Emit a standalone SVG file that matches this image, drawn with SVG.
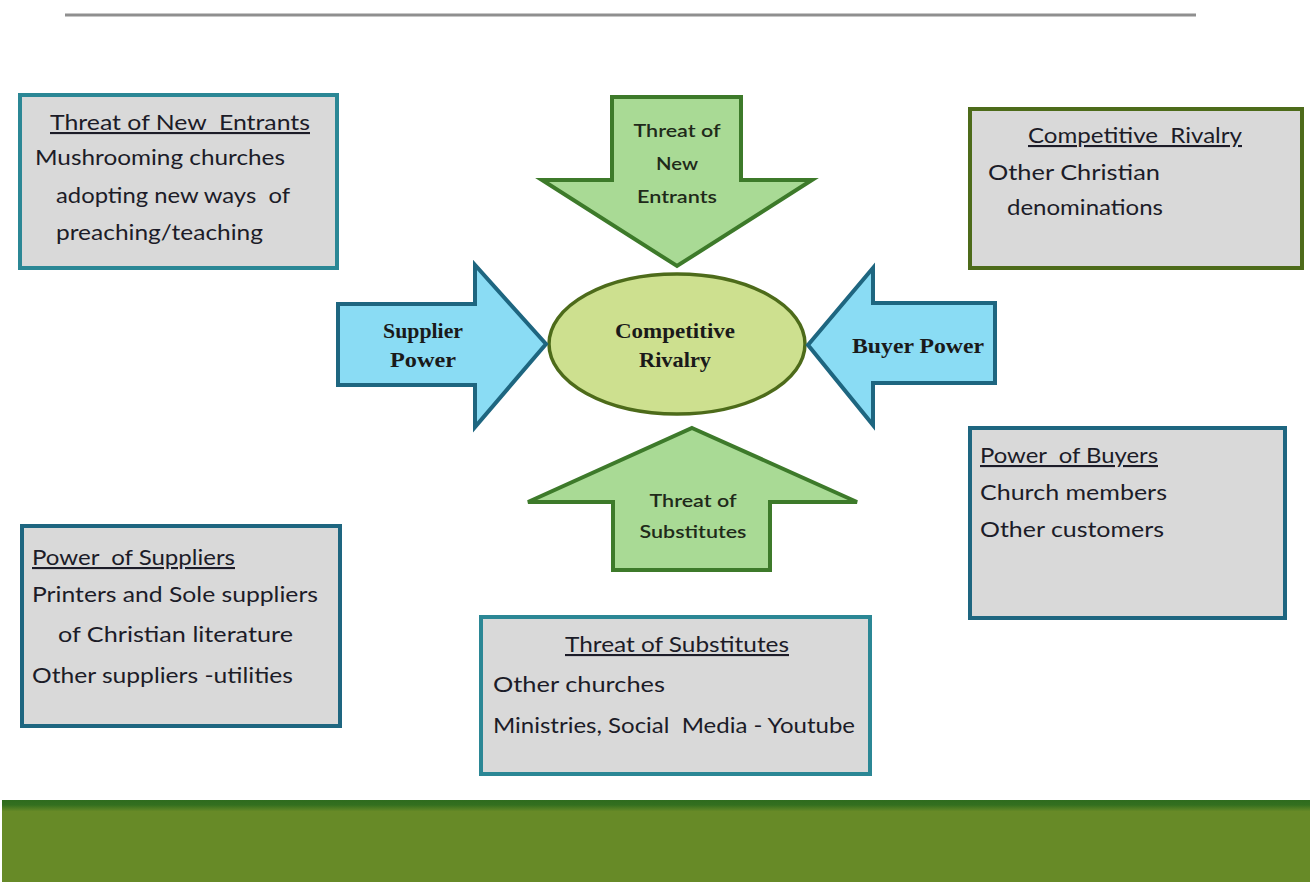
<svg xmlns="http://www.w3.org/2000/svg" width="1312" height="882" viewBox="0 0 1312 882">
  <defs>
    <linearGradient id="footerGrad" x1="0" y1="0" x2="0" y2="1">
      <stop offset="0" stop-color="#2e6b1e"/>
      <stop offset="0.06" stop-color="#336f1f"/>
      <stop offset="0.14" stop-color="#678a27"/>
      <stop offset="1" stop-color="#678a27"/>
    </linearGradient>
  </defs>
  <style>
    .box { fill: #d9d9d9; stroke-width: 4; }
    .teal { stroke: #2b8795; }
    .navy { stroke: #1e6680; }
    .olive { stroke: #4d6b1a; }
    .boxtxt { font-family: Lato, "Open Sans", sans-serif; font-size: 21px; fill: #1c1c28; }
    .title { text-decoration: underline; }
    .blueArrow { fill: #8adcf4; stroke: #1e6680; stroke-width: 4; stroke-linejoin: miter; }
    .greenArrow { fill: #a9da95; stroke: #3d7a2a; stroke-width: 4; stroke-linejoin: miter; }
    .hub { fill: #cde08f; stroke: #4d6b1a; stroke-width: 3.5; }
    .serif { font-family: "Liberation Serif", "Times New Roman", serif; font-weight: bold; font-size: 21px; fill: #1a1a1a; text-anchor: middle; }
    .arrowtxt { font-family: Lato, "Open Sans", sans-serif; font-weight: 600; font-size: 18px; fill: #1f2a1a; text-anchor: middle; }
  </style>

  <rect width="1312" height="882" fill="#ffffff"/>

  <!-- header rule -->
  <line x1="65" y1="15" x2="1196" y2="15" stroke="#8f8f8f" stroke-width="3"/>

  <!-- footer band -->
  <rect x="2" y="800" width="1308" height="82" fill="url(#footerGrad)"/>

  <!-- centre hub -->
  <g id="hub">
    <ellipse class="hub" cx="677" cy="344" rx="128" ry="70"/>
    <text class="serif" x="675" y="338" textLength="120" lengthAdjust="spacingAndGlyphs">Competitive</text>
    <text class="serif" x="675" y="367" textLength="72" lengthAdjust="spacingAndGlyphs">Rivalry</text>
  </g>

  <!-- force arrows pointing at the hub -->
  <g id="arrow-new-entrants">
    <polygon class="greenArrow" points="612,97 741,97 741,180 812,180 677,266 542,180 612,180"/>
    <text class="arrowtxt" x="677" y="137" textLength="87" lengthAdjust="spacingAndGlyphs">Threat of</text>
    <text class="arrowtxt" x="677" y="170" textLength="42" lengthAdjust="spacingAndGlyphs">New</text>
    <text class="arrowtxt" x="677" y="203" textLength="80" lengthAdjust="spacingAndGlyphs">Entrants</text>
  </g>

  <g id="arrow-substitutes">
    <polygon class="greenArrow" points="692,428 857,502 770,502 770,570 613,570 613,502 528,502"/>
    <text class="arrowtxt" x="693" y="507" textLength="87" lengthAdjust="spacingAndGlyphs">Threat of</text>
    <text class="arrowtxt" x="693" y="538" textLength="107" lengthAdjust="spacingAndGlyphs">Substitutes</text>
  </g>

  <g id="arrow-supplier">
    <polygon class="blueArrow" points="338,304 475,304 475,265 546,344 475,427 475,385 338,385"/>
    <text class="serif" x="423" y="338" textLength="80" lengthAdjust="spacingAndGlyphs">Supplier</text>
    <text class="serif" x="423" y="367" textLength="66" lengthAdjust="spacingAndGlyphs">Power</text>
  </g>

  <g id="arrow-buyer">
    <polygon class="blueArrow" points="995,303 873,303 873,268 808,345 873,425 873,383 995,383"/>
    <text class="serif" x="918" y="353" textLength="132" lengthAdjust="spacingAndGlyphs">Buyer Power</text>
  </g>

  <!-- detail boxes -->
  <g id="box-new-entrants">
    <rect class="box teal" x="20" y="95" width="317" height="173"/>
    <text class="boxtxt title" x="50" y="130" textLength="260" lengthAdjust="spacingAndGlyphs" xml:space="preserve">Threat of New  Entrants</text>
    <text class="boxtxt" x="35" y="165" textLength="250" lengthAdjust="spacingAndGlyphs">Mushrooming churches</text>
    <text class="boxtxt" x="56" y="203" textLength="234" lengthAdjust="spacingAndGlyphs" xml:space="preserve">adopting new ways  of</text>
    <text class="boxtxt" x="56" y="240" textLength="207" lengthAdjust="spacingAndGlyphs">preaching/teaching</text>
  </g>

  <g id="box-rivalry">
    <rect class="box olive" x="970" y="109" width="332" height="159"/>
    <text class="boxtxt title" x="1028" y="143" textLength="214" lengthAdjust="spacingAndGlyphs" xml:space="preserve">Competitive  Rivalry</text>
    <text class="boxtxt" x="988" y="180" textLength="172" lengthAdjust="spacingAndGlyphs">Other Christian</text>
    <text class="boxtxt" x="1007" y="215" textLength="156" lengthAdjust="spacingAndGlyphs">denominations</text>
  </g>

  <g id="box-suppliers">
    <rect class="box navy" x="22" y="526" width="318" height="200"/>
    <text class="boxtxt title" x="32" y="565" textLength="203" lengthAdjust="spacingAndGlyphs" xml:space="preserve">Power  of Suppliers</text>
    <text class="boxtxt" x="32" y="602" textLength="286" lengthAdjust="spacingAndGlyphs">Printers and Sole suppliers</text>
    <text class="boxtxt" x="58" y="642" textLength="235" lengthAdjust="spacingAndGlyphs">of Christian literature</text>
    <text class="boxtxt" x="32" y="683" textLength="261" lengthAdjust="spacingAndGlyphs">Other suppliers -utilities</text>
  </g>

  <g id="box-substitutes">
    <rect class="box teal" x="481" y="617" width="389" height="157"/>
    <text class="boxtxt title" x="565" y="652" textLength="224" lengthAdjust="spacingAndGlyphs">Threat of Substitutes</text>
    <text class="boxtxt" x="493" y="692" textLength="172" lengthAdjust="spacingAndGlyphs">Other churches</text>
    <text class="boxtxt" x="493" y="733" textLength="362" lengthAdjust="spacingAndGlyphs" xml:space="preserve">Ministries, Social  Media - Youtube</text>
  </g>

  <g id="box-buyers">
    <rect class="box navy" x="970" y="428" width="315" height="190"/>
    <text class="boxtxt title" x="980" y="463" textLength="178" lengthAdjust="spacingAndGlyphs" xml:space="preserve">Power  of Buyers</text>
    <text class="boxtxt" x="980" y="500" textLength="187" lengthAdjust="spacingAndGlyphs">Church members</text>
    <text class="boxtxt" x="980" y="537" textLength="184" lengthAdjust="spacingAndGlyphs">Other customers</text>
  </g>

  <!-- no free-standing connectors: the block arrows above carry the relationships -->
  <g id="connectors"/>
</svg>
